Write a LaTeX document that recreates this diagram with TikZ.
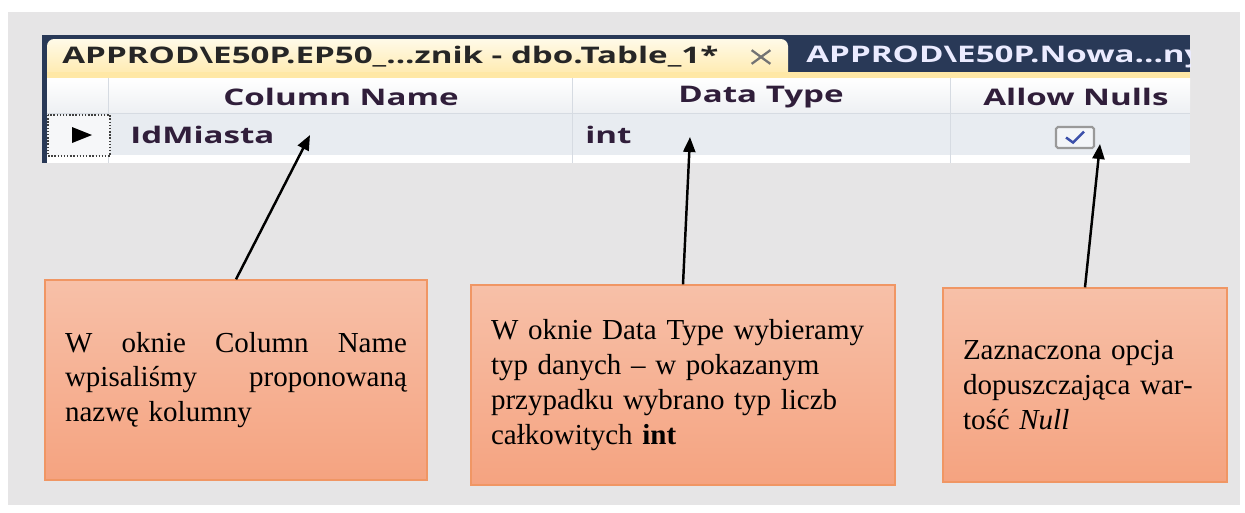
\documentclass[tikz,border=0pt]{standalone}
\usepackage{fontspec}
\setmainfont{Liberation Serif}
\newfontfamily\uifont[FakeStretch=1.45]{Open Sans}
\usepackage{xcolor}
\usepackage{tikz}
\usetikzlibrary{positioning,arrows.meta,calc}
\definecolor{bggray}{RGB}{230,229,230}
\definecolor{tabnavy}{RGB}{41,57,87}
\definecolor{tabtop}{RGB}{255,250,232}
\definecolor{tabbot}{RGB}{255,232,166}
\definecolor{hdrgray}{RGB}{238,240,243}
\definecolor{rowblue}{RGB}{232,236,241}
\definecolor{sepgray}{RGB}{214,219,226}
\definecolor{uiink}{RGB}{48,30,58}
\definecolor{checkblue}{RGB}{60,80,170}
\definecolor{notetop}{RGB}{247,192,168}
\definecolor{notebot}{RGB}{245,163,128}
\definecolor{noteedge}{RGB}{240,150,100}
\newcommand\uitext{\uifont\bfseries\fontsize{13}{15}\selectfont}
\tikzset{
uilabel/.style={
inner sep=0pt,
font=\uitext,
text=uiink
},
note/.style={
draw=noteedge,
thick,
top color=notetop,
bottom color=notebot,
inner xsep=0.4cm,
minimum height=4cm,
align=left,
font=\fontsize{16.5}{19.8}\selectfont
},
pointer/.style={
-{Triangle[length=3mm,width=2.4mm]},
line width=1.4pt
}
}
\begin{document}
\begin{tikzpicture}[x=0.02cm,y=-0.02cm]
\useasboundingbox (0,0) rectangle (1245,512);
\fill[white] (0,0) rectangle (1245,512);
\fill[bggray] (8,12) rectangle (1240,505);

% window with tabs and the table grid
\begin{scope}
\clip (42,35) rectangle (1190,163);
\fill[tabnavy] (42,35) rectangle (1190,163);
\shade[top color=tabtop,bottom color=tabbot,rounded corners=4pt]
  (47,80) |- (788,39) -- (788,80) -- cycle;
\fill[tabbot] (47,72) rectangle (1190,78);
\shade[top color=white,bottom color=hdrgray] (47,78) rectangle (1190,113);
\fill[rowblue] (47,113) rectangle (1190,155);
\fill[white] (47,155) rectangle (1190,163);
\draw[sepgray] (47,113) -- (1190,113);
\foreach \xs in {108,572,950}
  \draw[sepgray] (\xs,78) -- (\xs,163);
\fill[white!60!rowblue] (48,115) rectangle (110,156);
\draw[densely dotted,thick,black!75] (48,115) rectangle (110,156);
\fill (72,127) -- (92,135) -- (72,143) -- cycle;
\node[uilabel,text=black!85,anchor=west](tabActive) at (62,57)
  {APPROD\textbackslash E50P.EP50\_...znik - dbo.Table\_1*};
\node[inner sep=0pt,minimum width=0.36cm,minimum height=0.26cm](tabClose) at (761,57) {};
\draw[black!55,line width=1.3pt] (tabClose.north west) -- (tabClose.south east)
  (tabClose.south west) -- (tabClose.north east);
\node[uilabel,text=white!92!blue,anchor=west](tabOther) at (806,57)
  {APPROD\textbackslash E50P.Nowa...ny};
\end{scope}

\node[uilabel](hdrName) at (341,97) {Column Name};
\node[uilabel](hdrType) at (761,97) {Data Type};
\node[uilabel](hdrNulls) at (1076,97) {Allow Nulls};
\node[uilabel,anchor=west](cellName) at (130,135) {IdMiasta};
\node[uilabel,anchor=west](cellType) at (585,135) {int};
\node[draw=black!40,line width=1.2pt,fill=white!50!rowblue,rounded corners=1pt,
  minimum width=0.76cm,minimum height=0.42cm](chkNulls) at (1075,137.5) {};
\draw[checkblue,line width=1.4pt]
  ([shift={(-9,0)}]chkNulls.center) -- ([shift={(-2,5)}]chkNulls.center)
  -- ([shift={(9,-6)}]chkNulls.center);

% notes
\node[note,text width=6.84cm](noteName) at (236,380)
  {W\hfill oknie\hfill Column\hfill Name\\
   wpisaliśmy\hfill proponowaną\\
   nazwę kolumny};
\node[note,text width=7.68cm](noteType) at (683,385)
  {W oknie Data Type wybieramy\\
   typ danych -- w pokazanym\\
   przypadku wybrano typ liczb\\
   całkowitych \textbf{int}};
\node[note,text width=4.88cm,minimum height=3.88cm](noteNulls) at (1085,385)
  {Zaznaczona opcja\\
   dopuszczająca war-\\
   tość \textit{Null}};

\coordinate (ptName) at (310,135);
\coordinate (ptType) at (690,137);
\coordinate (ptNulls) at (1100,144);
\draw[pointer](noteName.north)--(ptName);
\draw[pointer](noteType.north)--(ptType);
\draw[pointer](noteNulls.north)--(ptNulls);
\end{tikzpicture}
\end{document}
